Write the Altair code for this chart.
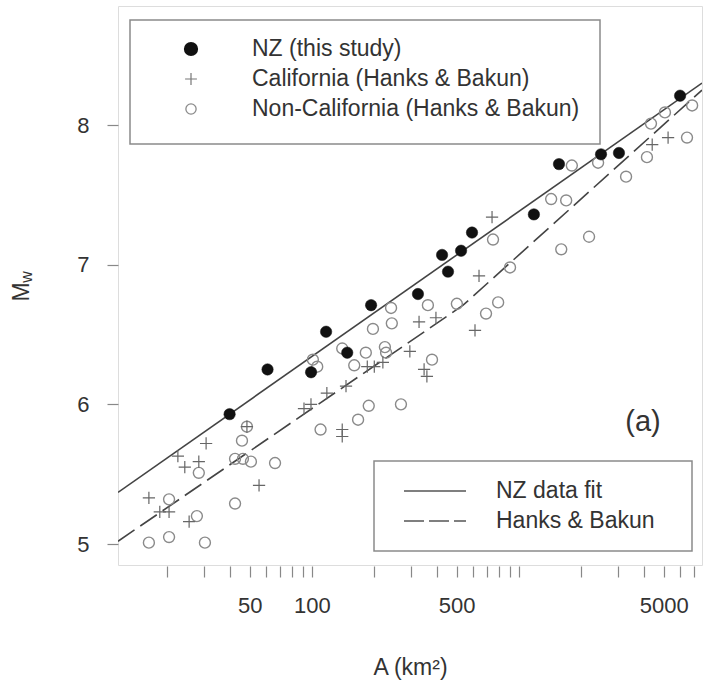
import altair as alt
import pandas as pd

# ---- data ----
nz_area = [40, 61, 99, 117, 148, 193, 325, 425, 454, 525, 593, 1180, 1560, 2490, 3040, 6000]
nz_mw = [5.93, 6.25, 6.23, 6.52, 6.37, 6.71, 6.79, 7.07, 6.95, 7.10, 7.23, 7.36, 7.72, 7.79, 7.80, 8.21]

cal_area = [16.3, 18.4, 20.4, 22.5, 24.3, 28.4, 30.8, 25.5, 48.5, 55.5, 91.5, 98.9, 118, 146,
            140, 140, 185, 200, 220, 297, 329, 397, 348, 359, 741, 641, 613, 4400, 5250]
cal_mw = [5.33, 5.23, 5.23, 5.63, 5.55, 5.59, 5.72, 5.16, 5.84, 5.42, 5.97, 6.00, 6.08, 6.13,
          5.82, 5.77, 6.27, 6.27, 6.30, 6.38, 6.59, 6.62, 6.25, 6.20, 7.34, 6.92, 6.53, 7.86, 7.91]

noncal_area = [16.3, 20.4, 30.4, 20.4, 27.8, 28.4, 42.5, 42.5, 46.4, 50.7, 66.3, 45.9, 48.5,
               110, 167, 188, 269, 101, 106, 140, 160, 182, 225, 228, 197, 241, 243, 363, 501,
               380, 693, 793, 749, 905, 1430, 1690, 1600, 2180, 1800, 2410, 3290, 4150, 4340,
               5070, 6860, 6480]
noncal_mw = [5.01, 5.05, 5.01, 5.32, 5.20, 5.51, 5.29, 5.61, 5.61, 5.59, 5.58, 5.74, 5.84,
             5.82, 5.89, 5.99, 6.00, 6.32, 6.27, 6.40, 6.28, 6.37, 6.41, 6.37, 6.54, 6.69, 6.58,
             6.71, 6.72, 6.32, 6.65, 6.73, 7.18, 6.98, 7.47, 7.46, 7.11, 7.20, 7.71, 7.73, 7.63,
             7.77, 8.01, 8.09, 8.14, 7.91]

fit_area = [11.56, 7656]
fit_mw = [5.37, 8.30]
hb_area = [11.56, 537, 7656]
hb_mw = [5.02, 6.71, 8.25]

x_ticks = [20, 30, 40, 50, 60, 70, 80, 90, 100, 200, 300, 400, 500, 600, 700, 800, 900,
           1000, 2000, 3000, 4000, 5000, 6000, 7000]
x_labelled = [50, 100, 500, 5000]
y_ticks = [5, 6, 7, 8]

legend_points = ["NZ (this study)", "California (Hanks & Bakun)", "Non-California (Hanks & Bakun)"]
legend_lines = ["NZ data fit", "Hanks & Bakun"]
panel_label = "(a)"

FONT = "Liberation Sans"
TXT = "#333333"
PLUS = "M-1,0L1,0M0,-1L0,1"

x_dom = [11.56, 7656]
y_dom = [4.85, 8.852]

xs = alt.Scale(type="log", domain=x_dom, nice=False)
ys = alt.Scale(domain=y_dom, nice=False, zero=False)

x_axis = alt.Axis(
    values=x_ticks, format="d",
    labelExpr="indexof([" + ",".join(str(v) for v in x_labelled) + "], datum.value) >= 0 ? datum.label : ''",
    title="A (km²)", titleFont=FONT, titleFontSize=23, titleFontWeight="normal", titleColor=TXT,
    titleY=101, titleBaseline="middle",
    labelFont=FONT, labelFontSize=22, labelColor=TXT, labelPadding=18,
    tickColor="#888888", tickWidth=1.2, tickSize=11, domain=False, grid=False, offset=1,
    labelFlush=False, labelOverlap=False,
)
y_axis = alt.Axis(
    values=y_ticks, title=None,
    labelFont=FONT, labelFontSize=22, labelColor=TXT, labelPadding=18,
    tickColor="#888888", tickWidth=1.2, tickSize=11, domain=False, grid=False, offset=0,
    labelFlush=False, labelOverlap=False,
)

nz_df = pd.DataFrame({"A": nz_area, "Mw": nz_mw})
cal_df = pd.DataFrame({"A": cal_area, "Mw": cal_mw})
noncal_df = pd.DataFrame({"A": noncal_area, "Mw": noncal_mw})
fit_df = pd.DataFrame({"A": fit_area, "Mw": fit_mw})
hb_df = pd.DataFrame({"A": hb_area, "Mw": hb_mw})

enc = dict(x=alt.X("A:Q", scale=xs, axis=x_axis), y=alt.Y("Mw:Q", scale=ys, axis=y_axis))

fit_line = alt.Chart(fit_df).mark_line(color="#444444", strokeWidth=1.6, clip=True).encode(**enc)
hb_line = alt.Chart(hb_df).mark_line(color="#444444", strokeWidth=1.6, strokeDash=[20, 7], clip=True).encode(**enc)

noncal_pts = alt.Chart(noncal_df).mark_point(
    shape="circle", filled=False, stroke="#8a8a8a", strokeWidth=1.4, size=120, opacity=1
).encode(**enc)
cal_pts = alt.Chart(cal_df).mark_point(
    shape=PLUS, filled=False, stroke="#666666", strokeWidth=1.2, size=150, opacity=1
).encode(**enc)
nz_pts = alt.Chart(nz_df).mark_point(
    shape="circle", filled=True, fill="#111111", stroke="#111111", strokeWidth=0.5, size=130, opacity=1
).encode(**enc)

one = pd.DataFrame({"d": [0]})

def text_mark(t, x, y, size=23, align="left", angle=0, baseline="middle"):
    kw = dict(font=FONT, fontSize=size, color=TXT, align=align, baseline=baseline)
    if angle:
        kw["angle"] = angle
    return alt.Chart(pd.DataFrame({"t": [t]})).mark_text(**kw).encode(
        text="t:N", x=alt.value(x), y=alt.value(y))

layers = [fit_line, hb_line, noncal_pts, cal_pts, nz_pts]

# legend 1 (points)
layers.append(alt.Chart(one).mark_rect(fill="white", stroke="#8a8a8a", strokeWidth=1.5).encode(
    x=alt.value(12), x2=alt.value(482), y=alt.value(14), y2=alt.value(138)))
rows1 = [43, 73, 103]
layers.append(alt.Chart(one).mark_point(shape="circle", filled=True, fill="#111111", stroke="#111111",
                                         size=150, opacity=1).encode(x=alt.value(73), y=alt.value(rows1[0])))
layers.append(alt.Chart(one).mark_point(shape=PLUS, filled=False, stroke="#777777", strokeWidth=1.2,
                                         size=140, opacity=1).encode(x=alt.value(73), y=alt.value(rows1[1])))
layers.append(alt.Chart(one).mark_point(shape="circle", filled=False, stroke="#8a8a8a", strokeWidth=1.3,
                                         size=105, opacity=1).encode(x=alt.value(73), y=alt.value(rows1[2])))
for lab, yy in zip(legend_points, rows1):
    layers.append(text_mark(lab, 134, yy))

# legend 2 (lines)
layers.append(alt.Chart(one).mark_rect(fill="white", stroke="#8a8a8a", strokeWidth=1.5).encode(
    x=alt.value(256), x2=alt.value(574), y=alt.value(455), y2=alt.value(545)))
rows2 = [485, 515]
layers.append(alt.Chart(one).mark_rule(color="#555555", strokeWidth=1.6).encode(
    x=alt.value(286), x2=alt.value(348), y=alt.value(rows2[0])))
layers.append(alt.Chart(one).mark_rule(color="#555555", strokeWidth=1.6, strokeDash=[20, 5]).encode(
    x=alt.value(286), x2=alt.value(348), y=alt.value(rows2[1])))
for lab, yy in zip(legend_lines, rows2):
    layers.append(text_mark(lab, 378, yy))

# panel label
layers.append(text_mark(panel_label, 525, 416, size=29, align="center"))

# y title: M with subscript w
layers.append(text_mark("M", -96, 286, size=23, align="center", angle=270))
layers.append(text_mark("w", -91, 271, size=16, align="center", angle=270))

chart = alt.layer(*layers).properties(
    width=584, height=559,
    padding={"left": 118, "top": 6, "right": 1, "bottom": 117},
    autosize="none",
).configure_view(stroke="#9a9a9a", strokeWidth=2).configure(background="white")

chart.save("out.html", embed_options={"renderer": "svg", "actions": False})
